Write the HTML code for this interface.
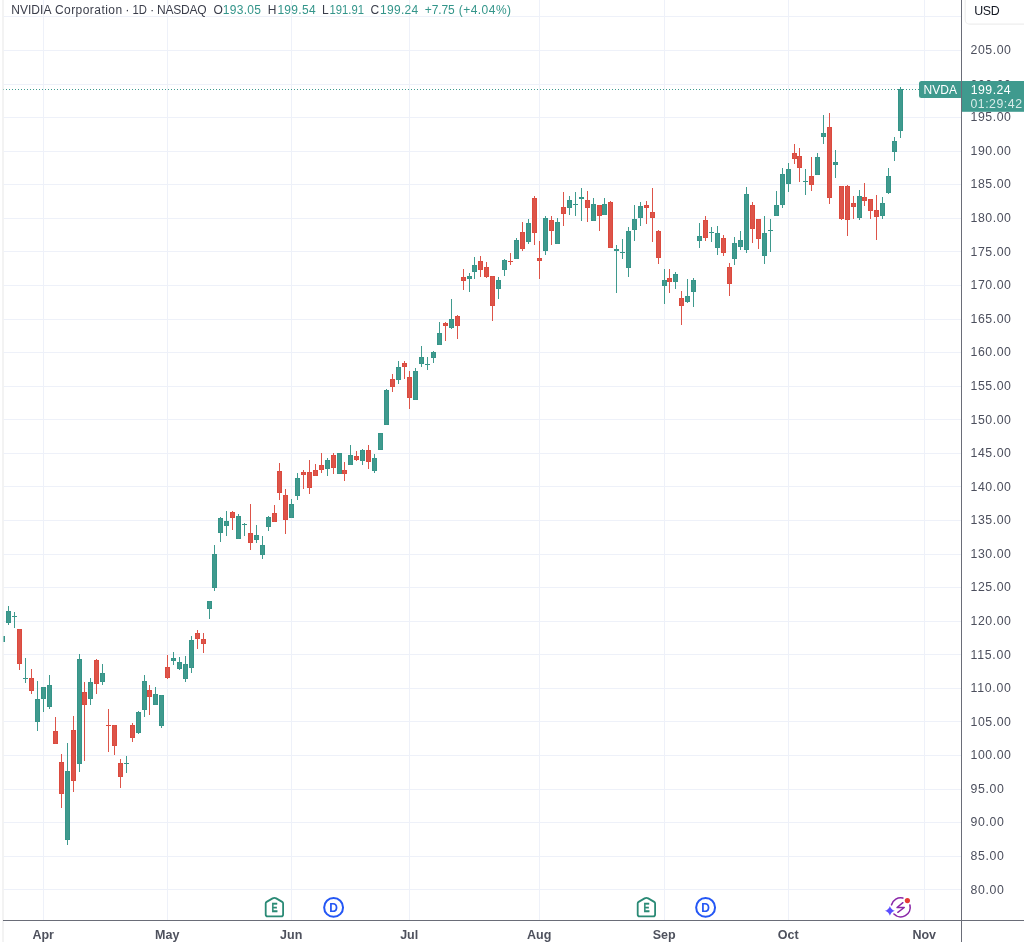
<!DOCTYPE html>
<html lang="en"><head><meta charset="utf-8"><title>NVDA chart</title>
<style>
html,body{margin:0;padding:0;background:#fff;}
body{width:1024px;height:942px;overflow:hidden;position:relative;}
svg{position:absolute;left:0;top:0;display:block;}
text{font-family:"Liberation Sans",sans-serif;}
.g{fill:#eef1f9}
.t{fill:#3f9a8e}
.r{fill:#dd5449}
.tb{fill:#359488}
.rb{fill:#db4a3e}
</style></head><body>
<svg width="1024" height="942" viewBox="0 0 1024 942">
<rect width="1024" height="942" fill="#fff"/>
<rect x="2" y="0" width="2" height="942" fill="#f3f3f3"/>
<g class="g">
<rect x="4" y="16" width="957" height="1"/>
<rect x="4" y="50" width="957" height="1"/>
<rect x="4" y="84" width="957" height="1"/>
<rect x="4" y="117" width="957" height="1"/>
<rect x="4" y="151" width="957" height="1"/>
<rect x="4" y="184" width="957" height="1"/>
<rect x="4" y="218" width="957" height="1"/>
<rect x="4" y="251" width="957" height="1"/>
<rect x="4" y="285" width="957" height="1"/>
<rect x="4" y="319" width="957" height="1"/>
<rect x="4" y="352" width="957" height="1"/>
<rect x="4" y="386" width="957" height="1"/>
<rect x="4" y="419" width="957" height="1"/>
<rect x="4" y="453" width="957" height="1"/>
<rect x="4" y="486" width="957" height="1"/>
<rect x="4" y="520" width="957" height="1"/>
<rect x="4" y="554" width="957" height="1"/>
<rect x="4" y="587" width="957" height="1"/>
<rect x="4" y="621" width="957" height="1"/>
<rect x="4" y="654" width="957" height="1"/>
<rect x="4" y="688" width="957" height="1"/>
<rect x="4" y="721" width="957" height="1"/>
<rect x="4" y="755" width="957" height="1"/>
<rect x="4" y="789" width="957" height="1"/>
<rect x="4" y="822" width="957" height="1"/>
<rect x="4" y="856" width="957" height="1"/>
<rect x="4" y="889" width="957" height="1"/>
<rect x="43" y="0" width="1" height="920"/>
<rect x="167" y="0" width="1" height="920"/>
<rect x="291" y="0" width="1" height="920"/>
<rect x="409" y="0" width="1" height="920"/>
<rect x="539" y="0" width="1" height="920"/>
<rect x="664" y="0" width="1" height="920"/>
<rect x="788" y="0" width="1" height="920"/>
<rect x="924" y="0" width="1" height="920"/>
</g>
<g class="g" fill-opacity="0.5">
<rect x="3" y="16" width="1" height="1"/>
<rect x="3" y="50" width="1" height="1"/>
<rect x="3" y="84" width="1" height="1"/>
<rect x="3" y="117" width="1" height="1"/>
<rect x="3" y="151" width="1" height="1"/>
<rect x="3" y="184" width="1" height="1"/>
<rect x="3" y="218" width="1" height="1"/>
<rect x="3" y="251" width="1" height="1"/>
<rect x="3" y="285" width="1" height="1"/>
<rect x="3" y="319" width="1" height="1"/>
<rect x="3" y="352" width="1" height="1"/>
<rect x="3" y="386" width="1" height="1"/>
<rect x="3" y="419" width="1" height="1"/>
<rect x="3" y="453" width="1" height="1"/>
<rect x="3" y="486" width="1" height="1"/>
<rect x="3" y="520" width="1" height="1"/>
<rect x="3" y="554" width="1" height="1"/>
<rect x="3" y="587" width="1" height="1"/>
<rect x="3" y="621" width="1" height="1"/>
<rect x="3" y="654" width="1" height="1"/>
<rect x="3" y="688" width="1" height="1"/>
<rect x="3" y="721" width="1" height="1"/>
<rect x="3" y="755" width="1" height="1"/>
<rect x="3" y="789" width="1" height="1"/>
<rect x="3" y="822" width="1" height="1"/>
<rect x="3" y="856" width="1" height="1"/>
<rect x="3" y="889" width="1" height="1"/>
</g>
<g shape-rendering="crispEdges">
<rect class="tb" x="6" y="611" width="5" height="12"/><rect class="t" x="7" y="612" width="3" height="10"/><rect class="t" x="8" y="606" width="1" height="19"/>
<rect class="tb" x="12" y="616" width="5" height="1"/><rect class="t" x="14" y="612" width="1" height="16"/>
<rect class="rb" x="17" y="629" width="5" height="35"/><rect class="r" x="18" y="630" width="3" height="33"/><rect class="r" x="19" y="629" width="1" height="41"/>
<rect class="tb" x="23" y="678" width="5" height="1"/><rect class="t" x="25" y="658" width="1" height="25"/>
<rect class="rb" x="29" y="678" width="5" height="13"/><rect class="r" x="30" y="679" width="3" height="11"/><rect class="r" x="31" y="669" width="1" height="25"/>
<rect class="tb" x="35" y="699" width="5" height="23"/><rect class="t" x="36" y="700" width="3" height="21"/><rect class="t" x="37" y="681" width="1" height="50"/>
<rect class="tb" x="41" y="687" width="5" height="12"/><rect class="t" x="42" y="688" width="3" height="10"/><rect class="t" x="43" y="687" width="1" height="25"/>
<rect class="tb" x="47" y="685" width="5" height="22"/><rect class="t" x="48" y="686" width="3" height="20"/><rect class="t" x="49" y="675" width="1" height="34"/>
<rect class="rb" x="53" y="731" width="5" height="13"/><rect class="r" x="54" y="732" width="3" height="11"/><rect class="r" x="55" y="717" width="1" height="27"/>
<rect class="rb" x="59" y="762" width="5" height="32"/><rect class="r" x="60" y="763" width="3" height="30"/><rect class="r" x="61" y="754" width="1" height="54"/>
<rect class="tb" x="65" y="771" width="5" height="69"/><rect class="t" x="66" y="772" width="3" height="67"/><rect class="t" x="67" y="743" width="1" height="102"/>
<rect class="rb" x="71" y="730" width="5" height="51"/><rect class="r" x="72" y="731" width="3" height="49"/><rect class="r" x="73" y="716" width="1" height="76"/>
<rect class="tb" x="77" y="659" width="5" height="105"/><rect class="t" x="78" y="660" width="3" height="103"/><rect class="t" x="79" y="654" width="1" height="118"/>
<rect class="rb" x="82" y="692" width="5" height="13"/><rect class="r" x="83" y="693" width="3" height="11"/><rect class="r" x="84" y="682" width="1" height="79"/>
<rect class="tb" x="88" y="682" width="5" height="17"/><rect class="t" x="89" y="683" width="3" height="15"/><rect class="t" x="90" y="678" width="1" height="27"/>
<rect class="rb" x="94" y="660" width="5" height="24"/><rect class="r" x="95" y="661" width="3" height="22"/><rect class="r" x="96" y="659" width="1" height="35"/>
<rect class="tb" x="100" y="673" width="5" height="9"/><rect class="t" x="101" y="674" width="3" height="7"/><rect class="t" x="102" y="664" width="1" height="21"/>
<rect class="rb" x="106" y="725" width="5" height="1"/><rect class="r" x="108" y="709" width="1" height="43"/>
<rect class="rb" x="112" y="725" width="5" height="21"/><rect class="r" x="113" y="726" width="3" height="19"/><rect class="r" x="114" y="725" width="1" height="30"/>
<rect class="rb" x="118" y="763" width="5" height="14"/><rect class="r" x="119" y="764" width="3" height="12"/><rect class="r" x="120" y="759" width="1" height="29"/>
<rect class="tb" x="124" y="763" width="5" height="1"/><rect class="t" x="126" y="756" width="1" height="17"/>
<rect class="rb" x="130" y="725" width="5" height="13"/><rect class="r" x="131" y="726" width="3" height="11"/><rect class="r" x="132" y="723" width="1" height="19"/>
<rect class="tb" x="136" y="712" width="5" height="21"/><rect class="t" x="137" y="713" width="3" height="19"/><rect class="t" x="138" y="711" width="1" height="23"/>
<rect class="tb" x="142" y="681" width="5" height="29"/><rect class="t" x="143" y="682" width="3" height="27"/><rect class="t" x="144" y="675" width="1" height="42"/>
<rect class="rb" x="147" y="690" width="5" height="7"/><rect class="r" x="148" y="691" width="3" height="5"/><rect class="r" x="149" y="685" width="1" height="30"/>
<rect class="tb" x="153" y="694" width="5" height="11"/><rect class="t" x="154" y="695" width="3" height="9"/><rect class="t" x="155" y="687" width="1" height="18"/>
<rect class="tb" x="159" y="695" width="5" height="31"/><rect class="t" x="160" y="696" width="3" height="29"/><rect class="t" x="161" y="695" width="1" height="33"/>
<rect class="rb" x="165" y="667" width="5" height="11"/><rect class="r" x="166" y="668" width="3" height="9"/><rect class="r" x="167" y="655" width="1" height="24"/>
<rect class="tb" x="171" y="658" width="5" height="3"/><rect class="t" x="172" y="659" width="3" height="1"/><rect class="t" x="173" y="652" width="1" height="13"/>
<rect class="tb" x="177" y="662" width="5" height="7"/><rect class="t" x="178" y="663" width="3" height="5"/><rect class="t" x="179" y="657" width="1" height="13"/>
<rect class="tb" x="183" y="664" width="5" height="15"/><rect class="t" x="184" y="665" width="3" height="13"/><rect class="t" x="185" y="656" width="1" height="26"/>
<rect class="tb" x="189" y="640" width="5" height="28"/><rect class="t" x="190" y="641" width="3" height="26"/><rect class="t" x="191" y="636" width="1" height="37"/>
<rect class="rb" x="195" y="633" width="5" height="6"/><rect class="r" x="196" y="634" width="3" height="4"/><rect class="r" x="197" y="630" width="1" height="19"/>
<rect class="rb" x="201" y="639" width="5" height="5"/><rect class="r" x="202" y="640" width="3" height="3"/><rect class="r" x="203" y="633" width="1" height="20"/>
<rect class="tb" x="207" y="601" width="5" height="8"/><rect class="t" x="208" y="602" width="3" height="6"/><rect class="t" x="209" y="601" width="1" height="18"/>
<rect class="tb" x="212" y="554" width="5" height="34"/><rect class="t" x="213" y="555" width="3" height="32"/><rect class="t" x="214" y="545" width="1" height="46"/>
<rect class="tb" x="218" y="518" width="5" height="15"/><rect class="t" x="219" y="519" width="3" height="13"/><rect class="t" x="220" y="517" width="1" height="25"/>
<rect class="tb" x="224" y="521" width="5" height="5"/><rect class="t" x="225" y="522" width="3" height="3"/><rect class="t" x="226" y="511" width="1" height="25"/>
<rect class="rb" x="230" y="512" width="5" height="6"/><rect class="r" x="231" y="513" width="3" height="4"/><rect class="r" x="232" y="511" width="1" height="19"/>
<rect class="tb" x="236" y="516" width="5" height="23"/><rect class="t" x="237" y="517" width="3" height="21"/><rect class="t" x="238" y="514" width="1" height="25"/>
<rect class="tb" x="242" y="524" width="5" height="1"/><rect class="t" x="244" y="523" width="1" height="13"/>
<rect class="rb" x="248" y="533" width="5" height="10"/><rect class="r" x="249" y="534" width="3" height="8"/><rect class="r" x="250" y="504" width="1" height="46"/>
<rect class="tb" x="254" y="535" width="5" height="5"/><rect class="t" x="255" y="536" width="3" height="3"/><rect class="t" x="256" y="525" width="1" height="18"/>
<rect class="tb" x="260" y="545" width="5" height="10"/><rect class="t" x="261" y="546" width="3" height="8"/><rect class="t" x="262" y="536" width="1" height="23"/>
<rect class="tb" x="266" y="517" width="5" height="10"/><rect class="t" x="267" y="518" width="3" height="8"/><rect class="t" x="268" y="516" width="1" height="15"/>
<rect class="rb" x="272" y="513" width="5" height="9"/><rect class="r" x="273" y="514" width="3" height="7"/><rect class="r" x="274" y="505" width="1" height="17"/>
<rect class="rb" x="277" y="471" width="5" height="22"/><rect class="r" x="278" y="472" width="3" height="20"/><rect class="r" x="279" y="463" width="1" height="37"/>
<rect class="rb" x="283" y="495" width="5" height="25"/><rect class="r" x="284" y="496" width="3" height="23"/><rect class="r" x="285" y="489" width="1" height="45"/>
<rect class="tb" x="289" y="504" width="5" height="14"/><rect class="t" x="290" y="505" width="3" height="12"/><rect class="t" x="291" y="499" width="1" height="19"/>
<rect class="tb" x="295" y="478" width="5" height="18"/><rect class="t" x="296" y="479" width="3" height="16"/><rect class="t" x="297" y="473" width="1" height="27"/>
<rect class="rb" x="301" y="472" width="5" height="3"/><rect class="r" x="302" y="473" width="3" height="1"/><rect class="r" x="303" y="470" width="1" height="19"/>
<rect class="rb" x="307" y="472" width="5" height="16"/><rect class="r" x="308" y="473" width="3" height="14"/><rect class="r" x="309" y="460" width="1" height="34"/>
<rect class="rb" x="313" y="470" width="5" height="6"/><rect class="r" x="314" y="471" width="3" height="4"/><rect class="r" x="315" y="464" width="1" height="12"/>
<rect class="rb" x="319" y="465" width="5" height="5"/><rect class="r" x="320" y="466" width="3" height="3"/><rect class="r" x="321" y="453" width="1" height="20"/>
<rect class="tb" x="325" y="460" width="5" height="9"/><rect class="t" x="326" y="461" width="3" height="7"/><rect class="t" x="327" y="458" width="1" height="18"/>
<rect class="rb" x="331" y="455" width="5" height="13"/><rect class="r" x="332" y="456" width="3" height="11"/><rect class="r" x="333" y="453" width="1" height="21"/>
<rect class="tb" x="337" y="453" width="5" height="21"/><rect class="t" x="338" y="454" width="3" height="19"/>
<rect class="rb" x="342" y="470" width="5" height="4"/><rect class="r" x="343" y="471" width="3" height="2"/><rect class="r" x="344" y="462" width="1" height="19"/>
<rect class="tb" x="348" y="455" width="5" height="10"/><rect class="t" x="349" y="456" width="3" height="8"/><rect class="t" x="350" y="445" width="1" height="20"/>
<rect class="rb" x="354" y="456" width="5" height="4"/><rect class="r" x="355" y="457" width="3" height="2"/><rect class="r" x="356" y="451" width="1" height="10"/>
<rect class="tb" x="360" y="450" width="5" height="11"/><rect class="t" x="361" y="451" width="3" height="9"/><rect class="t" x="362" y="449" width="1" height="16"/>
<rect class="rb" x="366" y="450" width="5" height="12"/><rect class="r" x="367" y="451" width="3" height="10"/><rect class="r" x="368" y="445" width="1" height="24"/>
<rect class="tb" x="372" y="458" width="5" height="13"/><rect class="t" x="373" y="459" width="3" height="11"/><rect class="t" x="374" y="454" width="1" height="19"/>
<rect class="tb" x="378" y="433" width="5" height="17"/><rect class="t" x="379" y="434" width="3" height="15"/>
<rect class="tb" x="384" y="390" width="5" height="35"/><rect class="t" x="385" y="391" width="3" height="33"/><rect class="t" x="386" y="389" width="1" height="36"/>
<rect class="rb" x="390" y="379" width="5" height="8"/><rect class="r" x="391" y="380" width="3" height="6"/><rect class="r" x="392" y="374" width="1" height="18"/>
<rect class="tb" x="396" y="367" width="5" height="13"/><rect class="t" x="397" y="368" width="3" height="11"/><rect class="t" x="398" y="361" width="1" height="23"/>
<rect class="rb" x="402" y="363" width="5" height="4"/><rect class="r" x="403" y="364" width="3" height="2"/><rect class="r" x="404" y="361" width="1" height="18"/>
<rect class="rb" x="407" y="377" width="5" height="21"/><rect class="r" x="408" y="378" width="3" height="19"/><rect class="r" x="409" y="371" width="1" height="38"/>
<rect class="tb" x="413" y="371" width="5" height="29"/><rect class="t" x="414" y="372" width="3" height="27"/><rect class="t" x="415" y="368" width="1" height="32"/>
<rect class="tb" x="419" y="357" width="5" height="7"/><rect class="t" x="420" y="358" width="3" height="5"/><rect class="t" x="421" y="346" width="1" height="21"/>
<rect class="tb" x="425" y="364" width="5" height="1"/><rect class="t" x="427" y="357" width="1" height="13"/>
<rect class="tb" x="431" y="352" width="5" height="6"/><rect class="t" x="432" y="353" width="3" height="4"/><rect class="t" x="433" y="351" width="1" height="12"/>
<rect class="tb" x="437" y="333" width="5" height="12"/><rect class="t" x="438" y="334" width="3" height="10"/><rect class="t" x="439" y="322" width="1" height="23"/>
<rect class="rb" x="443" y="323" width="5" height="3"/><rect class="r" x="444" y="324" width="3" height="1"/><rect class="r" x="445" y="322" width="1" height="19"/>
<rect class="tb" x="449" y="319" width="5" height="9"/><rect class="t" x="450" y="320" width="3" height="7"/><rect class="t" x="451" y="299" width="1" height="30"/>
<rect class="rb" x="455" y="316" width="5" height="10"/><rect class="r" x="456" y="317" width="3" height="8"/><rect class="r" x="457" y="315" width="1" height="24"/>
<rect class="rb" x="461" y="277" width="5" height="4"/><rect class="r" x="462" y="278" width="3" height="2"/><rect class="r" x="463" y="269" width="1" height="21"/>
<rect class="tb" x="467" y="276" width="5" height="3"/><rect class="t" x="468" y="277" width="3" height="1"/><rect class="t" x="469" y="273" width="1" height="19"/>
<rect class="tb" x="472" y="265" width="5" height="7"/><rect class="t" x="473" y="266" width="3" height="5"/><rect class="t" x="474" y="257" width="1" height="22"/>
<rect class="rb" x="478" y="261" width="5" height="9"/><rect class="r" x="479" y="262" width="3" height="7"/><rect class="r" x="480" y="256" width="1" height="21"/>
<rect class="rb" x="484" y="267" width="5" height="10"/><rect class="r" x="485" y="268" width="3" height="8"/><rect class="r" x="486" y="262" width="1" height="16"/>
<rect class="rb" x="490" y="276" width="5" height="30"/><rect class="r" x="491" y="277" width="3" height="28"/><rect class="r" x="492" y="276" width="1" height="45"/>
<rect class="tb" x="496" y="280" width="5" height="9"/><rect class="t" x="497" y="281" width="3" height="7"/><rect class="t" x="498" y="277" width="1" height="22"/>
<rect class="tb" x="502" y="260" width="5" height="10"/><rect class="t" x="503" y="261" width="3" height="8"/><rect class="t" x="504" y="259" width="1" height="17"/>
<rect class="rb" x="508" y="261" width="5" height="1"/><rect class="r" x="510" y="253" width="1" height="12"/>
<rect class="tb" x="514" y="240" width="5" height="19"/><rect class="t" x="515" y="241" width="3" height="17"/><rect class="t" x="516" y="238" width="1" height="21"/>
<rect class="rb" x="520" y="232" width="5" height="17"/><rect class="r" x="521" y="233" width="3" height="15"/><rect class="r" x="522" y="222" width="1" height="29"/>
<rect class="tb" x="526" y="223" width="5" height="19"/><rect class="t" x="527" y="224" width="3" height="17"/><rect class="t" x="528" y="219" width="1" height="25"/>
<rect class="rb" x="532" y="198" width="5" height="35"/><rect class="r" x="533" y="199" width="3" height="33"/><rect class="r" x="534" y="196" width="1" height="49"/>
<rect class="rb" x="537" y="258" width="5" height="3"/><rect class="r" x="538" y="259" width="3" height="1"/><rect class="r" x="539" y="241" width="1" height="38"/>
<rect class="tb" x="543" y="218" width="5" height="33"/><rect class="t" x="544" y="219" width="3" height="31"/><rect class="t" x="545" y="216" width="1" height="39"/>
<rect class="rb" x="549" y="220" width="5" height="11"/><rect class="r" x="550" y="221" width="3" height="9"/><rect class="r" x="551" y="216" width="1" height="29"/>
<rect class="tb" x="555" y="222" width="5" height="22"/><rect class="t" x="556" y="223" width="3" height="20"/><rect class="t" x="557" y="218" width="1" height="26"/>
<rect class="rb" x="561" y="207" width="5" height="7"/><rect class="r" x="562" y="208" width="3" height="5"/><rect class="r" x="563" y="192" width="1" height="34"/>
<rect class="tb" x="567" y="200" width="5" height="8"/><rect class="t" x="568" y="201" width="3" height="6"/><rect class="t" x="569" y="196" width="1" height="19"/>
<rect class="tb" x="573" y="204" width="5" height="1"/><rect class="t" x="575" y="192" width="1" height="24"/>
<rect class="tb" x="579" y="197" width="5" height="2"/><rect class="t" x="581" y="188" width="1" height="33"/>
<rect class="rb" x="585" y="200" width="5" height="8"/><rect class="r" x="586" y="201" width="3" height="6"/><rect class="r" x="587" y="191" width="1" height="31"/>
<rect class="tb" x="591" y="204" width="5" height="17"/><rect class="t" x="592" y="205" width="3" height="15"/><rect class="t" x="593" y="198" width="1" height="23"/>
<rect class="rb" x="597" y="205" width="5" height="11"/><rect class="r" x="598" y="206" width="3" height="9"/><rect class="r" x="599" y="205" width="1" height="26"/>
<rect class="tb" x="602" y="204" width="5" height="11"/><rect class="t" x="603" y="205" width="3" height="9"/><rect class="t" x="604" y="198" width="1" height="17"/>
<rect class="rb" x="608" y="202" width="5" height="46"/><rect class="r" x="609" y="203" width="3" height="44"/><rect class="r" x="610" y="201" width="1" height="47"/>
<rect class="tb" x="614" y="249" width="5" height="2"/><rect class="t" x="616" y="245" width="1" height="48"/>
<rect class="tb" x="620" y="252" width="5" height="1"/><rect class="t" x="622" y="239" width="1" height="20"/>
<rect class="tb" x="626" y="231" width="5" height="37"/><rect class="t" x="627" y="232" width="3" height="35"/><rect class="t" x="628" y="227" width="1" height="50"/>
<rect class="tb" x="632" y="219" width="5" height="11"/><rect class="t" x="633" y="220" width="3" height="9"/><rect class="t" x="634" y="205" width="1" height="36"/>
<rect class="tb" x="638" y="206" width="5" height="12"/><rect class="t" x="639" y="207" width="3" height="10"/><rect class="t" x="640" y="202" width="1" height="24"/>
<rect class="rb" x="644" y="205" width="5" height="3"/><rect class="r" x="645" y="206" width="3" height="1"/><rect class="r" x="646" y="201" width="1" height="23"/>
<rect class="rb" x="650" y="212" width="5" height="6"/><rect class="r" x="651" y="213" width="3" height="4"/><rect class="r" x="652" y="188" width="1" height="54"/>
<rect class="rb" x="656" y="231" width="5" height="27"/><rect class="r" x="657" y="232" width="3" height="25"/><rect class="r" x="658" y="230" width="1" height="34"/>
<rect class="tb" x="662" y="280" width="5" height="6"/><rect class="t" x="663" y="281" width="3" height="4"/><rect class="t" x="664" y="269" width="1" height="35"/>
<rect class="rb" x="667" y="278" width="5" height="4"/><rect class="r" x="668" y="279" width="3" height="2"/><rect class="r" x="669" y="269" width="1" height="24"/>
<rect class="tb" x="673" y="274" width="5" height="8"/><rect class="t" x="674" y="275" width="3" height="6"/><rect class="t" x="675" y="272" width="1" height="17"/>
<rect class="rb" x="679" y="298" width="5" height="8"/><rect class="r" x="680" y="299" width="3" height="6"/><rect class="r" x="681" y="291" width="1" height="34"/>
<rect class="tb" x="685" y="296" width="5" height="6"/><rect class="t" x="686" y="297" width="3" height="4"/><rect class="t" x="687" y="279" width="1" height="24"/>
<rect class="tb" x="691" y="280" width="5" height="12"/><rect class="t" x="692" y="281" width="3" height="10"/><rect class="t" x="693" y="278" width="1" height="29"/>
<rect class="tb" x="697" y="236" width="5" height="5"/><rect class="t" x="698" y="237" width="3" height="3"/><rect class="t" x="699" y="223" width="1" height="25"/>
<rect class="rb" x="703" y="220" width="5" height="18"/><rect class="r" x="704" y="221" width="3" height="16"/><rect class="r" x="705" y="216" width="1" height="25"/>
<rect class="tb" x="709" y="232" width="5" height="1"/><rect class="t" x="711" y="227" width="1" height="15"/>
<rect class="tb" x="715" y="233" width="5" height="15"/><rect class="t" x="716" y="234" width="3" height="13"/><rect class="t" x="717" y="226" width="1" height="29"/>
<rect class="rb" x="721" y="238" width="5" height="15"/><rect class="r" x="722" y="239" width="3" height="13"/><rect class="r" x="723" y="235" width="1" height="21"/>
<rect class="rb" x="727" y="267" width="5" height="17"/><rect class="r" x="728" y="268" width="3" height="15"/><rect class="r" x="729" y="263" width="1" height="33"/>
<rect class="tb" x="732" y="243" width="5" height="16"/><rect class="t" x="733" y="244" width="3" height="14"/><rect class="t" x="734" y="237" width="1" height="28"/>
<rect class="tb" x="738" y="240" width="5" height="7"/><rect class="t" x="739" y="241" width="3" height="5"/><rect class="t" x="740" y="231" width="1" height="19"/>
<rect class="tb" x="744" y="194" width="5" height="56"/><rect class="t" x="745" y="195" width="3" height="54"/><rect class="t" x="746" y="187" width="1" height="66"/>
<rect class="rb" x="750" y="205" width="5" height="24"/><rect class="r" x="751" y="206" width="3" height="22"/><rect class="r" x="752" y="202" width="1" height="41"/>
<rect class="rb" x="756" y="219" width="5" height="20"/><rect class="r" x="757" y="220" width="3" height="18"/><rect class="r" x="758" y="219" width="1" height="30"/>
<rect class="tb" x="762" y="233" width="5" height="23"/><rect class="t" x="763" y="234" width="3" height="21"/><rect class="t" x="764" y="216" width="1" height="48"/>
<rect class="tb" x="768" y="230" width="5" height="1"/><rect class="t" x="770" y="219" width="1" height="33"/>
<rect class="tb" x="774" y="205" width="5" height="11"/><rect class="t" x="775" y="206" width="3" height="9"/><rect class="t" x="776" y="191" width="1" height="25"/>
<rect class="tb" x="780" y="174" width="5" height="31"/><rect class="t" x="781" y="175" width="3" height="29"/><rect class="t" x="782" y="168" width="1" height="40"/>
<rect class="tb" x="786" y="169" width="5" height="15"/><rect class="t" x="787" y="170" width="3" height="13"/><rect class="t" x="788" y="163" width="1" height="29"/>
<rect class="rb" x="792" y="153" width="5" height="6"/><rect class="r" x="793" y="154" width="3" height="4"/><rect class="r" x="794" y="144" width="1" height="20"/>
<rect class="rb" x="797" y="156" width="5" height="12"/><rect class="r" x="798" y="157" width="3" height="10"/><rect class="r" x="799" y="148" width="1" height="34"/>
<rect class="tb" x="803" y="181" width="5" height="1"/><rect class="t" x="805" y="169" width="1" height="26"/>
<rect class="rb" x="809" y="176" width="5" height="9"/><rect class="r" x="810" y="177" width="3" height="7"/><rect class="r" x="811" y="157" width="1" height="34"/>
<rect class="tb" x="815" y="157" width="5" height="18"/><rect class="t" x="816" y="158" width="3" height="16"/><rect class="t" x="817" y="153" width="1" height="22"/>
<rect class="tb" x="821" y="133" width="5" height="4"/><rect class="t" x="822" y="134" width="3" height="2"/><rect class="t" x="823" y="115" width="1" height="29"/>
<rect class="rb" x="827" y="127" width="5" height="71"/><rect class="r" x="828" y="128" width="3" height="69"/><rect class="r" x="829" y="113" width="1" height="91"/>
<rect class="tb" x="833" y="162" width="5" height="3"/><rect class="t" x="834" y="163" width="3" height="1"/><rect class="t" x="835" y="150" width="1" height="28"/>
<rect class="rb" x="839" y="186" width="5" height="33"/><rect class="r" x="840" y="187" width="3" height="31"/><rect class="r" x="841" y="186" width="1" height="34"/>
<rect class="rb" x="845" y="186" width="5" height="34"/><rect class="r" x="846" y="187" width="3" height="32"/><rect class="r" x="847" y="185" width="1" height="51"/>
<rect class="rb" x="851" y="203" width="5" height="4"/><rect class="r" x="852" y="204" width="3" height="2"/><rect class="r" x="853" y="196" width="1" height="23"/>
<rect class="tb" x="857" y="196" width="5" height="22"/><rect class="t" x="858" y="197" width="3" height="20"/><rect class="t" x="859" y="190" width="1" height="30"/>
<rect class="rb" x="862" y="197" width="5" height="4"/><rect class="r" x="863" y="198" width="3" height="2"/><rect class="r" x="864" y="183" width="1" height="23"/>
<rect class="rb" x="868" y="199" width="5" height="12"/><rect class="r" x="869" y="200" width="3" height="10"/><rect class="r" x="870" y="199" width="1" height="20"/>
<rect class="rb" x="874" y="210" width="5" height="7"/><rect class="r" x="875" y="211" width="3" height="5"/><rect class="r" x="876" y="195" width="1" height="45"/>
<rect class="tb" x="880" y="203" width="5" height="13"/><rect class="t" x="881" y="204" width="3" height="11"/><rect class="t" x="882" y="197" width="1" height="22"/>
<rect class="tb" x="886" y="176" width="5" height="17"/><rect class="t" x="887" y="177" width="3" height="15"/><rect class="t" x="888" y="168" width="1" height="26"/>
<rect class="tb" x="892" y="141" width="5" height="11"/><rect class="t" x="893" y="142" width="3" height="9"/><rect class="t" x="894" y="137" width="1" height="24"/>
<rect class="tb" x="898" y="89" width="5" height="42"/><rect class="t" x="899" y="90" width="3" height="40"/><rect class="t" x="900" y="87" width="1" height="51"/>
</g>
<rect x="3" y="636" width="1" height="6" fill="#3f9a8e" fill-opacity="0.55"/>
<rect x="4" y="636" width="1" height="6" fill="#359488"/>
<rect x="3" y="89" width="1" height="1" fill="#3f9a8e" fill-opacity="0.5"/>
<line x1="6" y1="89.5" x2="919" y2="89.5" stroke="#3f9a8e" stroke-width="1" stroke-dasharray="1 2" shape-rendering="crispEdges"/>
<rect x="3" y="920" width="1021" height="1" fill="#6a6d78"/>
<rect x="961" y="0" width="1" height="942" fill="#6a6d78"/>
<g font-size="12.3" fill="#4c4f5d">
<text x="970.5" y="54.3" textLength="40.4" lengthAdjust="spacing">205.00</text>
<text x="970.5" y="89.3" textLength="40.4" lengthAdjust="spacing">200.00</text>
<text x="970.5" y="121.3" textLength="40.4" lengthAdjust="spacing">195.00</text>
<text x="970.5" y="155.3" textLength="40.4" lengthAdjust="spacing">190.00</text>
<text x="970.5" y="188.3" textLength="40.4" lengthAdjust="spacing">185.00</text>
<text x="970.5" y="222.3" textLength="40.4" lengthAdjust="spacing">180.00</text>
<text x="970.5" y="256.3" textLength="40.4" lengthAdjust="spacing">175.00</text>
<text x="970.5" y="289.3" textLength="40.4" lengthAdjust="spacing">170.00</text>
<text x="970.5" y="323.3" textLength="40.4" lengthAdjust="spacing">165.00</text>
<text x="970.5" y="356.3" textLength="40.4" lengthAdjust="spacing">160.00</text>
<text x="970.5" y="390.3" textLength="40.4" lengthAdjust="spacing">155.00</text>
<text x="970.5" y="424.3" textLength="40.4" lengthAdjust="spacing">150.00</text>
<text x="970.5" y="457.3" textLength="40.4" lengthAdjust="spacing">145.00</text>
<text x="970.5" y="491.3" textLength="40.4" lengthAdjust="spacing">140.00</text>
<text x="970.5" y="524.3" textLength="40.4" lengthAdjust="spacing">135.00</text>
<text x="970.5" y="558.3" textLength="40.4" lengthAdjust="spacing">130.00</text>
<text x="970.5" y="591.3" textLength="40.4" lengthAdjust="spacing">125.00</text>
<text x="970.5" y="625.3" textLength="40.4" lengthAdjust="spacing">120.00</text>
<text x="970.5" y="659.3" textLength="40.4" lengthAdjust="spacing">115.00</text>
<text x="970.5" y="692.3" textLength="40.4" lengthAdjust="spacing">110.00</text>
<text x="970.5" y="726.3" textLength="40.4" lengthAdjust="spacing">105.00</text>
<text x="970.5" y="759.3" textLength="40.4" lengthAdjust="spacing">100.00</text>
<text x="970.5" y="793.3" textLength="33.4" lengthAdjust="spacing">95.00</text>
<text x="970.5" y="826.3" textLength="33.4" lengthAdjust="spacing">90.00</text>
<text x="970.5" y="860.3" textLength="33.4" lengthAdjust="spacing">85.00</text>
<text x="970.5" y="894.3" textLength="33.4" lengthAdjust="spacing">80.00</text>
</g>
<rect x="965.2" y="-6" width="70" height="30.2" rx="4.5" fill="#fff" stroke="#eeeeee" stroke-width="1.2"/>
<text x="974.2" y="15" font-size="12.4" fill="#131722" textLength="25.4" lengthAdjust="spacing">USD</text>
<path d="M921.5 81H961V98H921.5a2.5 2.5 0 0 1-2.5-2.5v-12a2.5 2.5 0 0 1 2.5-2.5z" fill="#3f9a8e"/>
<rect x="962" y="81" width="62" height="30.8" fill="#3f9a8e"/>
<text x="923.6" y="93.8" font-size="12" fill="#fff" textLength="33.4" lengthAdjust="spacing">NVDA</text>
<text x="970.7" y="93.9" font-size="12.3" fill="#fff" textLength="40" lengthAdjust="spacing">199.24</text>
<text x="970.4" y="107.9" font-size="12.3" fill="#fff" fill-opacity="0.8" textLength="51.6" lengthAdjust="spacing">01:29:42</text>
<g font-size="12.5" font-weight="bold" fill="#4e515d" text-anchor="middle">
<text x="43.2" y="939">Apr</text>
<text x="167.2" y="939">May</text>
<text x="291.2" y="939">Jun</text>
<text x="409.2" y="939">Jul</text>
<text x="539.2" y="939">Aug</text>
<text x="664.2" y="939">Sep</text>
<text x="788.2" y="939">Oct</text>
<text x="924.2" y="939">Nov</text>
</g>
<g font-size="12">
<text x="11.2" y="14" fill="#3a3d4a" textLength="40.2" lengthAdjust="spacing">NVIDIA</text>
<text x="54.9" y="14" fill="#3a3d4a" textLength="67.2" lengthAdjust="spacing">Corporation</text>
<text x="125.3" y="14" fill="#3a3d4a" font-size="13">·</text>
<text x="132.5" y="14" fill="#3a3d4a" textLength="14.4" lengthAdjust="spacingAndGlyphs">1D</text>
<text x="149.9" y="14" fill="#3a3d4a" font-size="13">·</text>
<text x="156.9" y="14" fill="#3a3d4a" textLength="49.8" lengthAdjust="spacing">NASDAQ</text>
<text x="213.5" y="14" fill="#3a3d4a">O</text>
<text x="222.8" y="14" fill="#33958a" textLength="38.2" lengthAdjust="spacing">193.05</text>
<text x="267.7" y="14" fill="#3a3d4a">H</text>
<text x="277.4" y="14" fill="#33958a" textLength="38.2" lengthAdjust="spacing">199.54</text>
<text x="322.1" y="14" fill="#3a3d4a">L</text>
<text x="329.6" y="14" fill="#33958a" textLength="34.4" lengthAdjust="spacingAndGlyphs">191.91</text>
<text x="370.4" y="14" fill="#3a3d4a">C</text>
<text x="380" y="14" fill="#33958a" textLength="38.2" lengthAdjust="spacing">199.24</text>
<text x="424.8" y="14" fill="#33958a" textLength="29.8" lengthAdjust="spacing">+7.75</text>
<text x="458.8" y="14" fill="#33958a" textLength="52.2" lengthAdjust="spacing">(+4.04%)</text>
</g>
<g transform="translate(274.4 907)">
<path d="M-8.7 -3.6 Q-8.7 -4.6 -7.8 -5.1 L-1.8 -8.6 Q0 -9.6 1.8 -8.6 L7.8 -5.1 Q8.7 -4.6 8.7 -3.6 V7.4 Q8.7 9.3 6.8 9.3 H-6.8 Q-8.7 9.3 -8.7 7.4 Z" fill="#fff" stroke="#2a8a75" stroke-width="1.8" stroke-linejoin="round"/>
<text x="0.25" y="4.75" font-size="12.1" font-weight="bold" fill="#2a8a75" stroke="#2a8a75" stroke-width="0.35" text-anchor="middle" textLength="6.1" lengthAdjust="spacingAndGlyphs">E</text>
</g>
<g transform="translate(646.4 907)">
<path d="M-8.7 -3.6 Q-8.7 -4.6 -7.8 -5.1 L-1.8 -8.6 Q0 -9.6 1.8 -8.6 L7.8 -5.1 Q8.7 -4.6 8.7 -3.6 V7.4 Q8.7 9.3 6.8 9.3 H-6.8 Q-8.7 9.3 -8.7 7.4 Z" fill="#fff" stroke="#2a8a75" stroke-width="1.8" stroke-linejoin="round"/>
<text x="0.25" y="4.75" font-size="12.1" font-weight="bold" fill="#2a8a75" stroke="#2a8a75" stroke-width="0.35" text-anchor="middle" textLength="6.1" lengthAdjust="spacingAndGlyphs">E</text>
</g>
<g transform="translate(333.6 907.4)">
<circle r="9.45" fill="#fff" stroke="#2457f5" stroke-width="2"/>
<text x="0" y="4.3" font-size="12" font-weight="bold" fill="#2457f5" text-anchor="middle">D</text>
</g>
<g transform="translate(705.6 907.4)">
<circle r="9.45" fill="#fff" stroke="#2457f5" stroke-width="2"/>
<text x="0" y="4.3" font-size="12" font-weight="bold" fill="#2457f5" text-anchor="middle">D</text>
</g>
<g transform="translate(900.7 907.33)" fill="none" stroke="#8a27a8" stroke-linecap="round" stroke-linejoin="round">
<path d="M-9.16 -2.51 A9.5 9.5 0 0 1 2.14 -9.26" stroke-width="1.6"/>
<path d="M9.22 -2.28 A9.5 9.5 0 0 1 -6.75 6.68" stroke-width="1.6"/>
<path d="M2.2 -4.7 L-3.7 0.15 L3.6 0.15 L-2.9 5.05" stroke-width="1.4"/>
<circle cx="6.7" cy="-6.73" r="2.6" fill="#e53a35" stroke="none"/>
<path d="M-10.8 -1.45 Q-9.6 2.25 -5.9 3.45 Q-9.6 4.65 -10.8 8.35 Q-12 4.65 -15.7 3.45 Q-12 2.25 -10.8 -1.45 Z" fill="#5b4dff" stroke="none"/>
</g>
</svg>
</body></html>
